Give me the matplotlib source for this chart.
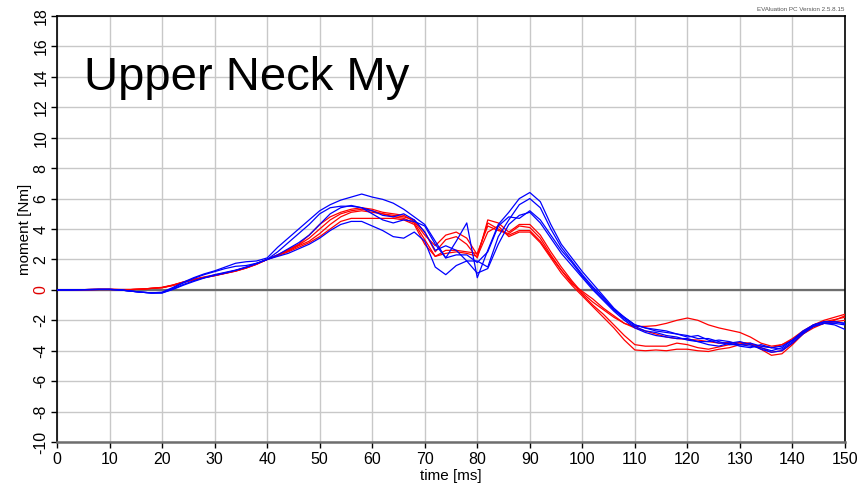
import numpy as np
import matplotlib
matplotlib.use("Agg")
import matplotlib.pyplot as plt

plt.rcParams['font.family'] = ['Liberation Sans', 'DejaVu Sans']
plt.rcParams['axes.unicode_minus'] = False

# time axis, every 2 ms
time_ms = np.arange(0, 152, 2)

# blue runs
blue_1 = [0.0, 0.0, 0.01, 0.02, 0.03, 0.03, 0.0, -0.08, -0.15, -0.2,
          -0.15, 0.15, 0.5, 0.8, 1.05, 1.25, 1.5, 1.75, 1.85, 1.9,
          2.1, 2.8, 3.4, 4.0, 4.6, 5.2, 5.6, 5.9, 6.1, 6.3,
          6.1, 5.95, 5.7, 5.3, 4.8, 4.3, 3.2, 2.1, 2.3, 2.3,
          1.8, 2.5, 4.2, 4.8, 4.7, 5.2, 4.6, 3.6, 2.6, 1.8,
          0.9, 0.1, -0.6, -1.3, -1.8, -2.3, -2.5, -2.7, -2.8, -2.9,
          -3.0, -3.2, -3.2, -3.4, -3.6, -3.6, -3.5, -3.7, -3.8, -3.7,
          -3.3, -2.8, -2.3, -2.1, -2.1, -2.2]
blue_2 = [0.0, 0.0, 0.01, 0.02, 0.03, 0.03, 0.0, -0.08, -0.15, -0.2,
          -0.18, 0.1, 0.45, 0.75, 1.0, 1.2, 1.4, 1.55, 1.6, 1.75,
          2.0, 2.5, 3.1, 3.7, 4.3, 5.0, 5.4, 5.5, 5.5, 5.4,
          5.0, 4.6, 4.4, 4.6, 4.5, 4.2, 3.0, 2.1, 3.2, 4.4,
          0.8, 2.6, 4.3, 5.1, 6.0, 6.4, 5.8, 4.3, 3.0, 2.1,
          1.2, 0.4, -0.4, -1.2, -1.8, -2.3, -2.5, -2.6, -2.7, -2.9,
          -3.1, -3.0, -3.3, -3.5, -3.5, -3.7, -3.8, -3.6, -3.8, -3.9,
          -3.4, -2.8, -2.4, -2.2, -2.3, -2.6]
blue_3 = [0.0, 0.0, 0.01, 0.02, 0.03, 0.03, 0.0, -0.08, -0.15, -0.2,
          -0.2, 0.05, 0.35, 0.6, 0.8, 1.0, 1.15, 1.3, 1.5, 1.75,
          2.0, 2.3, 2.7, 3.1, 3.6, 4.3, 5.0, 5.4, 5.55, 5.4,
          5.2, 4.9, 4.8, 5.0, 4.6, 3.8, 2.6, 2.9, 2.6, 1.9,
          1.9, 1.5, 3.5, 4.6, 5.6, 6.0, 5.4, 4.0, 2.8, 1.9,
          1.0, 0.2, -0.5, -1.3, -1.9, -2.4, -2.7, -2.8, -3.0, -3.1,
          -3.3, -3.4, -3.4, -3.3, -3.4, -3.6, -3.7, -3.8, -4.0, -3.8,
          -3.3, -2.7, -2.3, -2.1, -2.1, -2.2]
blue_4 = [0.0, 0.0, 0.01, 0.02, 0.03, 0.03, 0.0, -0.08, -0.15, -0.2,
          -0.2, 0.02, 0.3, 0.55, 0.78, 0.95, 1.1, 1.28, 1.48, 1.72,
          2.0, 2.2, 2.4, 2.7, 3.0, 3.4, 3.9, 4.3, 4.5, 4.5,
          4.2, 3.9, 3.5, 3.4, 3.8, 3.2, 1.5, 1.0, 1.6, 1.9,
          1.1, 1.4, 3.0, 4.3, 4.9, 5.1, 4.4, 3.4, 2.4, 1.6,
          0.8, 0.0, -0.7, -1.4, -2.0, -2.5, -2.8, -3.0, -3.1, -3.2,
          -3.2, -3.4, -3.6, -3.7, -3.5, -3.4, -3.6, -3.9, -4.1, -4.0,
          -3.5, -2.9, -2.4, -2.2, -2.2, -2.3]

# red runs
red_1 = [0.0, 0.0, 0.01, 0.02, 0.03, 0.03, 0.02, 0.02, 0.05, 0.1,
         0.15, 0.3, 0.5, 0.68, 0.82, 0.95, 1.1, 1.25, 1.45, 1.7,
         2.0, 2.3, 2.65, 3.0, 3.6, 4.3, 4.8, 5.1, 5.3, 5.4,
         5.3, 5.1, 5.0, 4.9, 4.5, 3.6, 2.9, 3.6, 3.8, 3.4,
         2.3, 4.4, 4.0, 3.6, 3.9, 3.9, 3.2, 2.2, 1.3, 0.5,
         -0.3, -1.0, -1.6, -2.3, -3.0, -3.6, -3.7, -3.7, -3.7, -3.5,
         -3.6, -3.8, -3.9, -3.75, -3.6, -3.45, -3.5, -3.9, -4.3, -4.2,
         -3.6, -2.9, -2.4, -2.2, -2.0, -1.7]
red_2 = [0.0, 0.0, 0.01, 0.02, 0.03, 0.03, 0.02, 0.02, 0.05, 0.1,
         0.17, 0.32, 0.52, 0.7, 0.85, 0.98, 1.12, 1.27, 1.47, 1.72,
         2.0, 2.3, 2.6, 2.95, 3.4, 4.0, 4.6, 5.0, 5.2, 5.3,
         5.2, 5.0, 4.9, 4.8, 4.6, 3.8, 2.5, 3.3, 3.5, 3.0,
         2.1, 4.6, 4.4, 3.8, 4.3, 4.3, 3.6, 2.5, 1.5, 0.6,
         -0.2, -0.8, -1.3, -1.8, -2.2, -2.4, -2.4, -2.35, -2.2, -2.0,
         -1.85, -2.0, -2.3, -2.5, -2.65, -2.8, -3.1, -3.5, -3.7, -3.6,
         -3.3, -2.8, -2.3, -2.0, -1.8, -1.6]
red_3 = [0.0, 0.0, 0.01, 0.02, 0.03, 0.03, 0.02, 0.02, 0.05, 0.1,
         0.14, 0.28, 0.48, 0.66, 0.8, 0.93, 1.08, 1.23, 1.43, 1.68,
         2.0, 2.25, 2.55, 2.9, 3.2, 3.7, 4.3, 4.8, 5.1, 5.2,
         5.1, 5.0, 4.8, 4.7, 4.4, 3.3, 2.2, 2.4, 2.5, 2.4,
         2.2, 3.8, 4.2, 3.5, 3.8, 3.8, 3.1, 2.1, 1.1, 0.3,
         -0.4, -1.1, -1.8, -2.5, -3.3, -3.95, -4.0, -3.95, -4.0, -3.9,
         -3.9, -4.0, -4.05, -3.9, -3.8, -3.6, -3.55, -3.8, -4.1, -4.0,
         -3.5, -2.9, -2.5, -2.2, -2.1, -2.0]
red_4 = [0.0, 0.0, 0.01, 0.02, 0.03, 0.03, 0.02, 0.02, 0.05, 0.1,
         0.15, 0.3, 0.5, 0.67, 0.81, 0.94, 1.09, 1.24, 1.44, 1.69,
         2.0, 2.25, 2.5, 2.8, 3.1, 3.5, 4.0, 4.5, 4.7, 4.7,
         4.7, 4.7, 4.7, 4.6, 4.3, 3.0, 2.2, 2.6, 2.6, 2.5,
         2.4, 4.2, 3.9, 3.7, 4.2, 4.1, 3.4, 2.3, 1.3, 0.4,
         -0.1, -0.6, -1.2, -1.7, -2.2, -2.5, -2.7, -2.9, -3.1, -3.2,
         -3.25, -3.3, -3.4, -3.5, -3.45, -3.5, -3.6, -3.7, -3.8, -3.6,
         -3.2, -2.7, -2.3, -2.1, -1.95, -1.8]

blue_runs = [blue_1, blue_2, blue_3, blue_4]
red_runs = [red_1, red_2, red_3, red_4]

fig = plt.figure(figsize=(8.64, 4.86), dpi=100)
ax = fig.add_axes([0.066, 0.0905, 0.912, 0.8765])

for r in red_runs:
    ax.plot(time_ms, r, color='#ff0000', lw=0.9, zorder=3, solid_joinstyle='round')
for b in blue_runs:
    ax.plot(time_ms, b, color='#0000ff', lw=0.9, zorder=3, solid_joinstyle='round')

ax.axhline(0, color='#6e6e6e', lw=1.6, zorder=2)

ax.set_xlim(0, 150)
ax.set_ylim(-10, 18)
ax.set_xticks(range(0, 151, 10))
ax.set_yticks(range(-10, 19, 2))
ax.grid(True, color='#c8c8c8', lw=1.0, zorder=0)
ax.set_axisbelow(True)

ax.tick_params(axis='both', direction='out', length=4, width=1, labelsize=11.5, colors='black')
ax.tick_params(axis='y', pad=2)
for lab in ax.get_yticklabels():
    lab.set_rotation(90)
    lab.set_va('center')
    if lab.get_text() == '0':
        lab.set_color('#e00000')

for s in ['left', 'top', 'right']:
    ax.spines[s].set_color('black')
    ax.spines[s].set_linewidth(1.2)
ax.spines['bottom'].set_color('#6e6e6e')
ax.spines['bottom'].set_linewidth(1.8)

ax.set_xlabel('time [ms]', fontsize=11, labelpad=1)
ax.set_ylabel('moment [Nm]', fontsize=11, labelpad=1)

ax.text(0.034, 0.827, 'Upper Neck My', transform=ax.transAxes, fontsize=34, color='black')
fig.text(0.977, 0.975, 'EVAluation PC Version 2.5.8.15', fontsize=4.5, color='#555555', ha='right', va='bottom')

fig.savefig('out.png', dpi=100)
